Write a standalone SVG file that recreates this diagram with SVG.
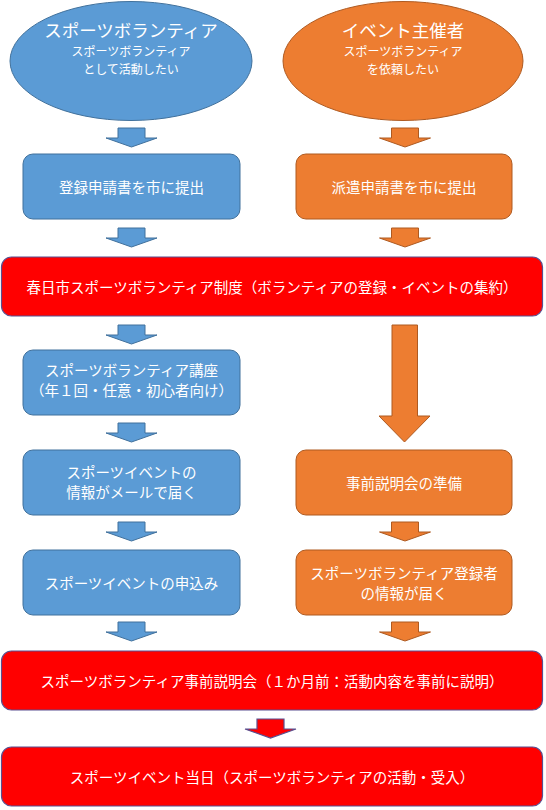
<svg xmlns="http://www.w3.org/2000/svg" xmlns:xlink="http://www.w3.org/1999/xlink" width="546" height="810" viewBox="0 0 546 810">
<defs>
<style>
text{font-family:"Noto Sans CJK JP","Noto Sans",sans-serif;fill:#ffffff;text-anchor:middle;dominant-baseline:central}
.blue{fill:#5b9bd5;stroke:#41719c;stroke-width:1}
.orange{fill:#ed7d31;stroke:#ae5a21;stroke-width:1}
.red{fill:#ff0000;stroke:#5a4f8f;stroke-width:1.2}
.title{font-size:17.5px}
.sub{font-size:12px}
.t{font-size:14.5px}
</style>
<path id="arr" d="M-13.5,0 H13.5 V10 H25.5 L0,19 L-25.5,10 H-13.5 Z"/>
</defs>
<rect width="546" height="810" fill="#ffffff"/>
<g id="connectors">
<use xlink:href="#arr" class="blue" transform="translate(131.5,128)"/>
<use xlink:href="#arr" class="orange" transform="translate(405,128)"/>
<use xlink:href="#arr" class="blue" transform="translate(131.5,228)"/>
<use xlink:href="#arr" class="orange" transform="translate(405,228)"/>
<use xlink:href="#arr" class="blue" transform="translate(131.5,325)"/>
<path class="orange" d="M392,325 H417.5 V416 H430 L404.5,442 L379,416 H392 Z"/>
<use xlink:href="#arr" class="blue" transform="translate(131.5,423)"/>
<use xlink:href="#arr" class="blue" transform="translate(131.5,522)"/>
<use xlink:href="#arr" class="orange" transform="translate(405,522)"/>
<use xlink:href="#arr" class="blue" transform="translate(131.5,622)"/>
<use xlink:href="#arr" class="orange" transform="translate(405,622)"/>
<use xlink:href="#arr" class="red" transform="translate(270.5,719)"/>
</g>
<g id="volunteer">
<ellipse class="blue" cx="131" cy="61" rx="121" ry="59.5"/>
<text class="title" x="131" y="29">スポーツボランティア</text>
<text class="sub" x="131" y="50">スポーツボランティア</text>
<text class="sub" x="131" y="68">として活動したい</text>
</g>
<g id="organizer">
<ellipse class="orange" cx="403" cy="61" rx="120" ry="59.5"/>
<text class="title" x="403" y="29">イベント主催者</text>
<text class="sub" x="403" y="50">スポーツボランティア</text>
<text class="sub" x="403" y="68">を依頼したい</text>
</g>
<g id="register">
<rect class="blue" x="23" y="154" width="217" height="65" rx="10"/>
<text class="t" x="131.5" y="186.5">登録申請書を市に提出</text>
</g>
<g id="dispatch">
<rect class="orange" x="296" y="154" width="216" height="65" rx="10"/>
<text class="t" x="404" y="186.5">派遣申請書を市に提出</text>
</g>
<g id="system">
<rect class="red" x="1.5" y="257" width="541" height="59" rx="10"/>
<text class="t" x="272" y="286.5">春日市スポーツボランティア制度（ボランティアの登録・イベントの集約）</text>
</g>
<g id="course">
<rect class="blue" x="23" y="350" width="217" height="65" rx="10"/>
<text class="t" x="131.5" y="369">スポーツボランティア講座</text>
<text class="t" x="131.5" y="389">（年１回・任意・初心者向け）</text>
</g>
<g id="mail">
<rect class="blue" x="23" y="450" width="217" height="65" rx="10"/>
<text class="t" x="131.5" y="471">スポーツイベントの</text>
<text class="t" x="131.5" y="491">情報がメールで届く</text>
</g>
<g id="prepare">
<rect class="orange" x="296" y="450" width="216" height="65" rx="10"/>
<text class="t" x="404" y="482.5">事前説明会の準備</text>
</g>
<g id="apply">
<rect class="blue" x="23" y="550" width="217" height="65" rx="10"/>
<text class="t" x="131.5" y="582.5">スポーツイベントの申込み</text>
</g>
<g id="info">
<rect class="orange" x="296" y="550" width="216" height="65" rx="10"/>
<text class="t" x="404" y="572">スポーツボランティア登録者</text>
<text class="t" x="404" y="592">の情報が届く</text>
</g>
<g id="briefing">
<rect class="red" x="1.5" y="651" width="541" height="59" rx="10"/>
<text class="t" x="272" y="680.5">スポーツボランティア事前説明会（１か月前：活動内容を事前に説明）</text>
</g>
<g id="eventday">
<rect class="red" x="1.5" y="747" width="541" height="59" rx="10"/>
<text class="t" x="272" y="776.5">スポーツイベント当日（スポーツボランティアの活動・受入）</text>
</g>
</svg>
